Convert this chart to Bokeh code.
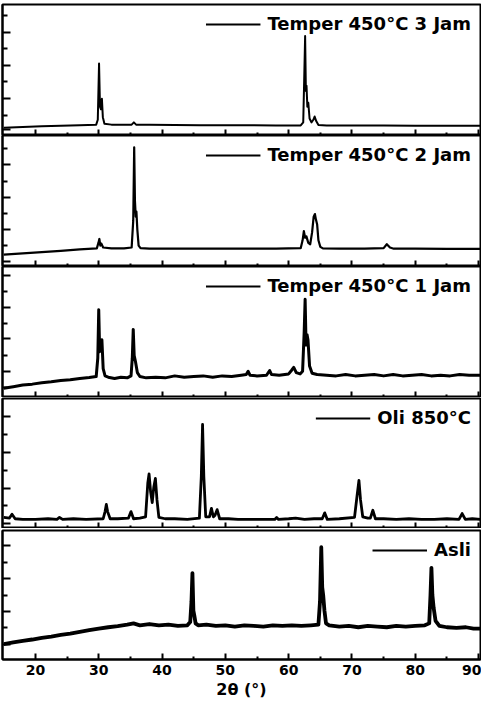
from bokeh.plotting import figure
from bokeh.layouts import column
from bokeh.models import Range1d, FixedTicker, Legend, LegendItem, CustomLabelingPolicy
from bokeh.embed import file_html
from bokeh.resources import INLINE

# ---------------- data (2theta in degrees, intensity in % of panel height) ----------------
two_theta_3jam = [15, 18, 21, 24, 27, 29.6, 29.85, 30.05, 30.2, 30.35, 30.5, 30.65, 30.9,
                  32, 35.2, 35.55, 35.9, 38, 42, 46, 50, 54, 58,
                  61.9, 62.3, 62.45, 62.6, 62.72, 62.82, 62.95, 63.1, 63.3, 63.6, 63.9, 64.1, 64.35, 64.7,
                  66, 70, 75, 80, 85, 90.3]
intensity_3jam = [6, 6.5, 7, 7.4, 7.8, 8.3, 12, 55, 22, 20, 28, 14, 9,
                  8.3, 8.3, 10, 8.3, 8.2, 8.0, 7.9, 7.8, 7.8, 7.7,
                  7.7, 10, 42, 76, 34, 38, 22, 25, 13, 10, 12, 14.5, 11, 8,
                  7.7, 7.6, 7.6, 7.5, 7.5, 7.5]

two_theta_2jam = [15, 18, 21, 24, 27, 29.7, 29.95, 30.1, 30.25, 30.4, 30.7, 32, 34,
                  35.2, 35.45, 35.6, 35.72, 35.85, 35.95, 36.1, 36.3, 36.6,
                  38, 42, 46, 50, 54, 58,
                  61.9, 62.2, 62.4, 62.6, 62.8, 63.1, 63.4, 63.7, 63.95, 64.15, 64.3, 64.5, 64.7, 65.0, 65.4,
                  68, 72, 75.0, 75.5, 76.0, 76.6, 80, 85, 90.3]
intensity_2jam = [9, 10, 11, 12, 13, 13.8, 18, 21, 16, 17.5, 14.5, 13.8, 13.8,
                  14.5, 35, 91, 50, 38, 42, 28, 16, 14,
                  13.6, 13.6, 13.6, 13.6, 13.6, 13.6,
                  14, 20, 27, 22, 23, 18, 17, 26, 38, 40, 36, 32, 20, 15, 13.8,
                  13.6, 13.6, 14, 17, 14.5, 13.6, 13.6, 13.5, 13.4]

two_theta_1jam = [15, 16.5, 18, 19.5, 21, 22.5, 24, 25.5, 27, 28.5,
                  29.6, 29.85, 30.0, 30.15, 30.35, 30.5, 30.7, 31.0, 31.5,
                  32.5, 33.5, 34.5, 35.1, 35.3, 35.45, 35.6, 35.8, 36.1, 36.5,
                  37.5, 39, 40.5, 42, 43.5, 45, 46.5, 48, 49.5, 51, 52.5,
                  53.3, 53.6, 53.9, 55, 56.5, 57.0, 57.3, 58.5,
                  60.0, 60.5, 60.8, 61.2, 61.8,
                  62.2, 62.45, 62.6, 62.75, 62.9, 63.05, 63.3, 63.7, 64.5,
                  66, 67.5, 69, 70.5, 72, 73.5, 75, 76.5, 78, 79.5, 81, 82.5, 84, 85.5, 87, 88.5, 90.3]
intensity_1jam = [7, 8.2, 9.5, 10.2, 11.2, 12, 13, 13.6, 14.5, 15.2,
                  16, 30, 67, 35, 38, 44, 22, 16.5, 15.5,
                  14.5, 15.5, 15, 16.5, 30, 52, 32, 27.5, 19, 16,
                  15, 15.5, 15, 16.5, 15.5, 16, 16.5, 15.5, 16.5, 16, 17,
                  17.5, 20, 17, 16.5, 17, 20.6, 17.5, 17,
                  18, 21, 23, 19, 18,
                  20, 50, 75, 40, 48, 44, 24, 18.5, 17.5,
                  17, 16.5, 17.5, 16.5, 17, 17.5, 16.5, 17.5, 16.5, 17, 17.5, 16.5, 17, 16.5, 17.5, 17, 17]

two_theta_oli = [15, 15.9, 16.3, 16.8, 18, 20, 22, 23.4, 23.8, 24.3, 26, 28,
                 30.7, 31.0, 31.2, 31.4, 31.8, 33, 34.7, 35.1, 35.5, 36.5,
                 37.4, 37.75, 37.95, 38.2, 38.45, 38.7, 38.95, 39.2, 39.5, 40.5, 42, 44,
                 45.9, 46.2, 46.4, 46.6, 46.9, 47.5, 47.8, 48.1, 48.35, 48.7, 49.1,
                 50.5, 52, 54, 56, 57.8, 58.1, 58.4, 60, 61.1, 62.5, 64,
                 65.3, 65.7, 66.1, 68, 70.4, 70.8, 71.1, 71.35, 71.7, 72.5, 72.9, 73.3, 73.7,
                 75, 77, 79, 81, 83, 85, 86.9, 87.4, 87.9, 89, 90.3]
intensity_oli = [8.5, 8, 11, 7.5, 7, 7, 7.5, 7, 8.5, 7, 7.5, 7,
                 7.5, 13, 18.5, 13, 7.5, 7.5, 8, 13, 7.5, 8,
                 9, 35, 42, 28, 20, 32, 38.5, 22, 8.5, 7.5, 7.5, 7,
                 8, 40, 80, 40, 9, 9, 15.5, 9, 10, 14.5, 7.5,
                 7.5, 7, 7, 7, 7, 8.5, 7, 7.5, 8, 7, 7.5,
                 7.5, 12, 7, 7.5, 8.5, 25, 37, 22, 9, 8, 8, 14, 7.5,
                 7.5, 7, 7.5, 7, 7, 7.5, 7, 11.5, 7, 7.5, 7]

two_theta_asli = [15, 16.5, 18, 19.5, 21, 22.5, 24, 25.5, 27, 28.5, 30,
                  31.5, 33, 34.5, 35.5, 36.5, 38, 39.5, 41, 42.5,
                  44.0, 44.45, 44.65, 44.8, 44.95, 45.1, 45.3, 45.7,
                  47, 48.5, 50, 51.5, 53, 54.5, 56, 57.5, 59, 60.5, 62, 63.5,
                  64.7, 64.95, 65.15, 65.3, 65.45, 65.65, 65.9, 66.4,
                  68, 69.5, 71, 72.5, 74, 75.5, 77, 78.5, 80, 81.5,
                  82.2, 82.4, 82.55, 82.7, 82.9, 83.2, 83.8,
                  85, 86.5, 88, 89.2, 90.3]
intensity_asli = [12, 13.2, 14.5, 15.5, 16.8, 17.8, 19, 20, 21.5, 22.8, 24,
                  25, 25.8, 27, 28, 26.5, 27.5, 26.5, 27, 26,
                  26.5, 29, 45, 67, 38, 34, 28, 26.5,
                  27, 26, 26.5, 25.5, 26.5, 26, 25.5, 26.5, 26, 26.5, 26, 26.5,
                  27, 45, 87, 56, 50, 38, 28, 26.5,
                  25.5, 26, 25, 26, 25.5, 25, 26, 25.5, 26, 26.5,
                  28, 50, 71, 50, 40, 30, 26,
                  25, 24.5, 25, 24, 24]

series_labels = ["Temper 450°C 3 Jam", "Temper 450°C 2 Jam", "Temper 450°C 1 Jam",
                 "Oli 850°C", "Asli"]
x_major_ticks = [20, 30, 40, 50, 60, 70, 80, 90]
x_minor_ticks = [25, 35, 45, 55, 65, 75, 85]
x_axis_title = "2θ (°)"

# y tick positions per panel (panel units 0-100, no labels)
y_major = [[4.6, 28.2, 53.4, 78.6], [3.8, 28.3, 53, 77.8], [20, 44.7, 69, 93.5],
           [3.8, 31, 58.7, 86], [12, 37.3, 62.5, 88]]
y_minor = [[15.3, 41.2, 66.4, 91.6], [15.7, 40.4, 65.2, 90], [8, 32.4, 56.5, 81],
           [17.5, 45, 72.5], [24.7, 50, 75]]

# ---------------- styling ----------------
FONT = "DejaVu Sans"
xs_all = [two_theta_3jam, two_theta_2jam, two_theta_1jam, two_theta_oli, two_theta_asli]
ys_all = [intensity_3jam, intensity_2jam, intensity_1jam, intensity_oli, intensity_asli]
widths = [2, 2.2, 3, 2.8, 3.8]
frame_h = [131, 131, 131, 130, 129]
top_b = [4, 0, 0, 1, 2]


def no_labels():
    return CustomLabelingPolicy(code="return [];")


xr = Range1d(14.8, 90.3)
figs = []
for i in range(5):
    last = (i == 4)
    p = figure(frame_width=478, frame_height=frame_h[i], x_range=xr, y_range=Range1d(0, 100),
               output_backend="svg", toolbar_location=None,
               min_border_left=2, min_border_right=1, min_border_top=top_b[i],
               min_border_bottom=0)
    p.xgrid.visible = False
    p.ygrid.visible = False
    p.outline_line_color = "black"
    p.outline_line_width = 2
    p.outline_line_alpha = 1
    p.background_fill_color = "white"
    p.border_fill_color = "white"

    p.line(xs_all[i], ys_all[i], line_color="black", line_width=widths[i], line_join="round")
    # single-point proxy (draws nothing in the plot) used for a thin legend line
    leg_r = p.line(xs_all[i][:1], ys_all[i][:1], line_color="black", line_width=2)

    xa = p.xaxis[0]
    xa.ticker = FixedTicker(ticks=x_major_ticks, minor_ticks=x_minor_ticks)
    xa.major_tick_in = 6
    xa.major_tick_out = 0
    xa.minor_tick_in = 3
    xa.minor_tick_out = 0
    xa.axis_line_width = 2
    xa.major_tick_line_width = 2
    xa.minor_tick_line_width = 2
    if last:
        xa.major_label_text_font = FONT
        xa.major_label_text_font_style = "bold"
        xa.major_label_text_font_size = "14px"
        xa.major_label_text_color = "black"
        xa.major_label_standoff = 5
        xa.axis_label = x_axis_title
        xa.axis_label_text_font = FONT
        xa.axis_label_text_font_style = "bold"
        xa.axis_label_text_font_size = "16px"
        xa.axis_label_text_color = "black"
        xa.axis_label_standoff = 2
    else:
        xa.major_label_policy = no_labels()
        xa.major_label_text_font_size = "0px"
        xa.major_label_standoff = 0

    ya = p.yaxis[0]
    ya.ticker = FixedTicker(ticks=y_major[i], minor_ticks=y_minor[i])
    ya.major_tick_in = 8
    ya.major_tick_out = 0
    ya.minor_tick_in = 5
    ya.minor_tick_out = 0
    ya.axis_line_width = 2
    ya.major_tick_line_width = 2
    ya.minor_tick_line_width = 2
    ya.major_label_policy = no_labels()
    ya.major_label_text_font_size = "0px"
    ya.major_label_standoff = 0

    legend = Legend(items=[LegendItem(label=series_labels[i], renderers=[leg_r])],
                    location="top_right", margin=0, padding=9,
                    border_line_alpha=0, background_fill_alpha=0,
                    label_text_font=FONT, label_text_font_style="bold",
                    label_text_font_size="18px", label_text_color="black",
                    glyph_width=55, label_standoff=7)
    p.add_layout(legend)
    figs.append(p)

layout = column(*figs, spacing=0)
open("out.html", "w").write(file_html(layout, INLINE))
